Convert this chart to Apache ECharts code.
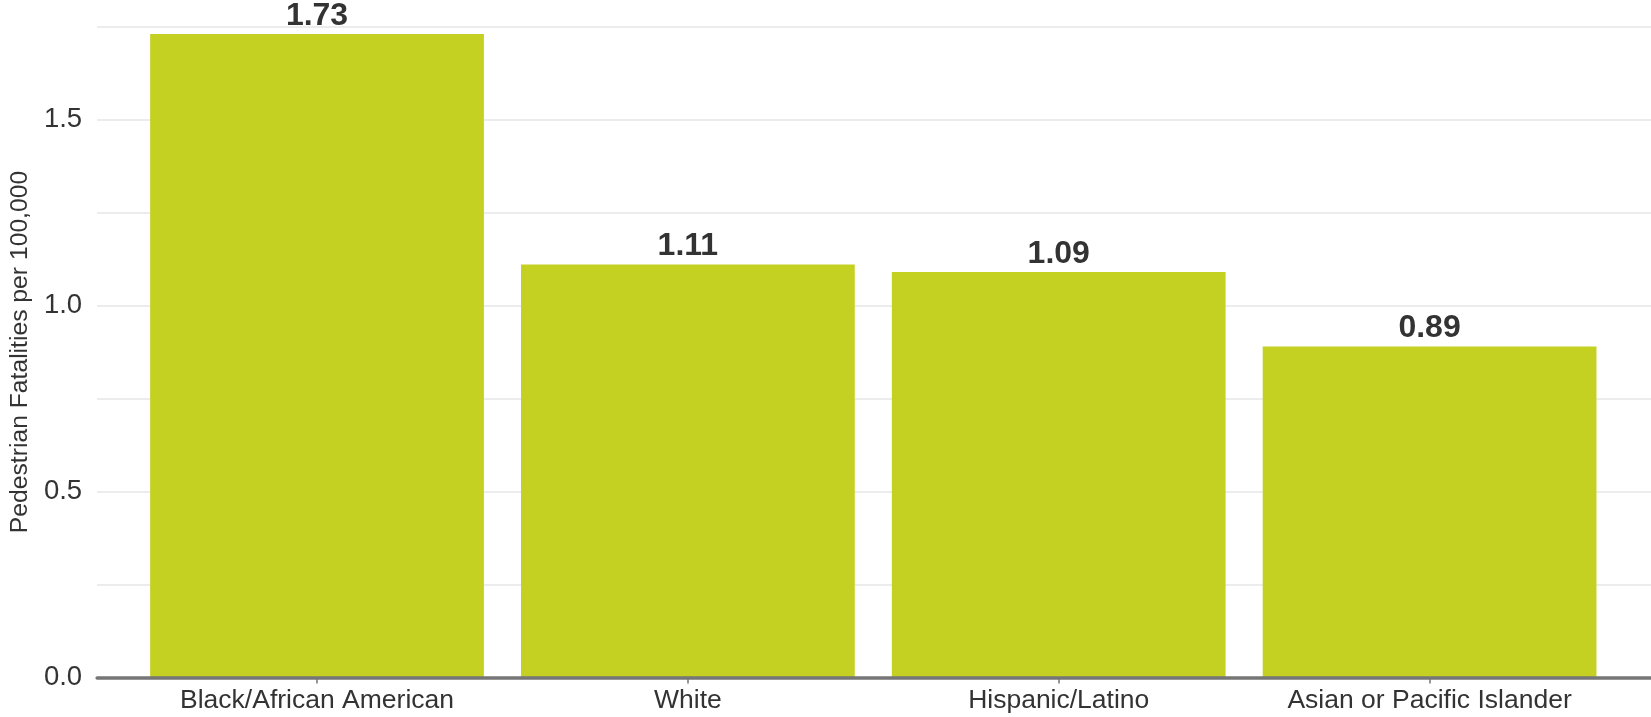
<!DOCTYPE html>
<html>
<head>
<meta charset="utf-8">
<script src="https://cdn.jsdelivr.net/npm/echarts@6/dist/echarts.min.js"></script>
<style>
  html, body { margin: 0; padding: 0; background: #ffffff; }
  #chart { width: 1651px; height: 717px; }
</style>
</head>
<body>
<div id="chart"></div>
<script>
// Pedestrian fatality rate by race / ethnicity
const categories = ['Black/African American', 'White', 'Hispanic/Latino', 'Asian or Pacific Islander'];
const rates = [1.73, 1.11, 1.09, 0.89];
const yTicks = [0, 0.25, 0.5, 0.75, 1.0, 1.25, 1.5, 1.75];

const FONT = '"Liberation Sans", Arial, Helvetica, sans-serif';
const BAR_COLOR = '#c5d122';
const Y_MAX = yTicks[yTicks.length - 1];
const Y_STEP = yTicks[1] - yTicks[0];

const chart = echarts.init(document.getElementById('chart'), null, { renderer: 'canvas' });

chart.setOption({
  animation: false,
  backgroundColor: '#ffffff',
  textStyle: { fontFamily: FONT },
  grid: [
    // full-width frame carrying the gridlines and the baseline
    { left: 95, right: 0, top: 26.5, bottom: 39.5 },
    // inset band where the bars sit
    { left: 131.6, right: 36, top: 26.5, bottom: 39.5 }
  ],
  xAxis: [
    {
      gridIndex: 0,
      type: 'value',
      min: 0,
      max: 1,
      z: 5,
      axisLine: { show: true, onZero: false, lineStyle: { color: '#767676', width: 3.5 } },
      axisTick: { show: false },
      axisLabel: { show: false },
      splitLine: { show: false }
    },
    {
      gridIndex: 1,
      type: 'category',
      data: categories,
      axisLine: { show: false },
      axisTick: {
        show: true,
        alignWithLabel: true,
        length: 6,
        lineStyle: { color: '#767676', width: 1.5 }
      },
      axisLabel: {
        color: '#333333',
        fontSize: 26.5,
        fontFamily: FONT,
        margin: 10,
        interval: 0
      }
    }
  ],
  yAxis: [
    {
      gridIndex: 0,
      type: 'value',
      min: 0,
      max: Y_MAX,
      interval: Y_STEP,
      name: 'Pedestrian Fatalities per 100,000',
      nameLocation: 'middle',
      nameGap: 62,
      nameTextStyle: { color: '#333333', fontSize: 24.7, fontFamily: FONT },
      axisLine: { show: false },
      axisTick: { show: false },
      axisLabel: {
        color: '#333333',
        fontSize: 27.5,
        fontFamily: FONT,
        margin: 15,
        formatter: function (v) {
          return Math.abs(v * 2 - Math.round(v * 2)) < 1e-6 ? v.toFixed(1) : '';
        }
      },
      splitLine: { show: true, lineStyle: { color: '#e6e6e6', width: 1.5 } }
    },
    {
      gridIndex: 1,
      type: 'value',
      min: 0,
      max: Y_MAX,
      interval: Y_STEP,
      show: false,
      splitLine: { show: false }
    }
  ],
  series: [
    {
      type: 'bar',
      xAxisIndex: 1,
      yAxisIndex: 1,
      data: rates,
      barCategoryGap: '10%',
      itemStyle: { color: BAR_COLOR },
      label: {
        show: true,
        position: 'top',
        distance: 2,
        color: '#333333',
        fontSize: 32,
        fontWeight: 'bold',
        fontFamily: FONT,
        formatter: function (p) { return p.value.toFixed(2); }
      }
    }
  ]
});
</script>
</body>
</html>
